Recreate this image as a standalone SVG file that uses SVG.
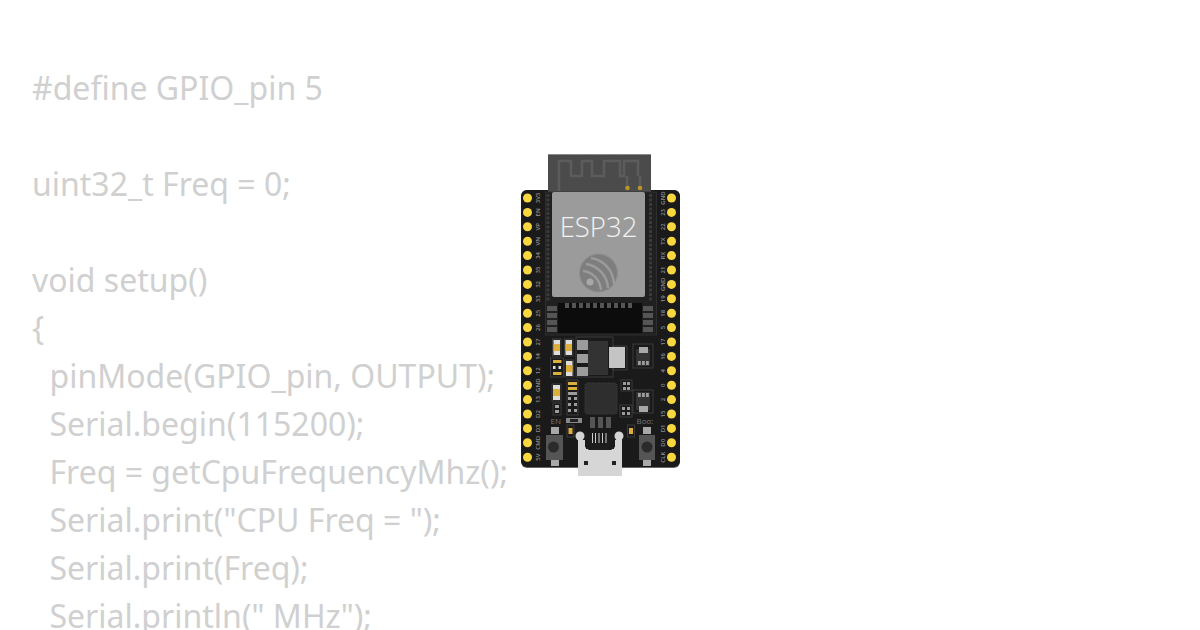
<svg xmlns="http://www.w3.org/2000/svg" width="1200" height="630" viewBox="0 0 1200 630">
<style>
.code{font-family:"Noto Sans","Open Sans",sans-serif;font-size:32px;font-weight:400;fill:#d0d0d0}
.pin{fill:#f9d73e}
.lbl{font-family:"Open Sans","DejaVu Sans",sans-serif;font-size:6px;font-weight:600;fill:#8e8e8e;text-anchor:middle}
.silk{font-family:"Open Sans",sans-serif;font-size:8px;fill:#777}
.out{fill:none;stroke:#454545;stroke-width:.8}
.pad{fill:#555}
.cap{fill:#ddd}
.y{fill:#dcae3c}
.gr{fill:#9c9c9c}
.d{fill:#333}
</style>
<rect width="1200" height="630" fill="#fff"/>
<g id="code">
<text class="code" x="32" y="100">#define GPIO_pin 5</text>
<text class="code" x="32" y="196">uint32_t Freq = 0;</text>
<text class="code" x="32" y="292">void setup()</text>
<text class="code" x="32" y="340">{</text>
<text class="code" x="49.500" y="388">pinMode(GPIO_pin, OUTPUT);</text>
<text class="code" x="49.500" y="436">Serial.begin(115200);</text>
<text class="code" x="49.500" y="484">Freq = getCpuFrequencyMhz();</text>
<text class="code" x="49.500" y="532">Serial.print("CPU Freq = ");</text>
<text class="code" x="49.500" y="580">Serial.print(Freq);</text>
<text class="code" x="49.500" y="628">Serial.println(" MHz");</text>
</g>
<g id="board">
<rect x="521" y="190" width="159" height="278" rx="6" fill="#666"/>
<rect x="521" y="190" width="159" height="277" rx="6" fill="#1a1a1a"/>
</g>
<g id="antenna">
<rect x="548" y="154" width="103" height="40" fill="#4b4b4b"/>
<rect x="548" y="154" width="103" height="1" fill="#8a8a8a"/>
<path d="M559 191V161H571V176H582V161H592V176H604V161H620V176H624V161H638V176M627 176V186M640 176V186" fill="none" stroke="#5c5c5c" stroke-width="2.500"/>
<circle cx="627.500" cy="188" r="2.300" fill="#b8952c"/>
<circle cx="640" cy="188" r="2.300" fill="#b8952c"/>
</g>
<g id="module">
<rect x="545.500" y="192" width="111" height="143" fill="#202020" stroke="#333" stroke-width=".8"/>
<path d="M548 194V302M650.500 194V302" stroke="#3a3a3a" stroke-width="3" stroke-dasharray="3 1.500"/>
<rect x="558" y="303" width="84" height="30" fill="#0c0c0c"/>
<g class="pad">
<rect x="547" y="306" width="10" height="5"/><rect x="547" y="313" width="10" height="5"/><rect x="547" y="320" width="10" height="5"/><rect x="547" y="327" width="10" height="5"/>
<rect x="643" y="306" width="10" height="5"/><rect x="643" y="313" width="10" height="5"/><rect x="643" y="320" width="10" height="5"/><rect x="643" y="327" width="10" height="5"/>
<rect x="565" y="303" width="4" height="5"/><rect x="572" y="303" width="4" height="5"/><rect x="579" y="303" width="4" height="5"/><rect x="586" y="303" width="4" height="5"/><rect x="593" y="303" width="4" height="5"/><rect x="600" y="303" width="4" height="5"/><rect x="607" y="303" width="4" height="5"/><rect x="614" y="303" width="4" height="5"/><rect x="621" y="303" width="4" height="5"/><rect x="628" y="303" width="4" height="5"/>
</g>
<rect x="552" y="192" width="93" height="105" rx="2" fill="#9b9b9b"/>
<text x="598.500" y="237" font-family="'Open Sans',sans-serif" font-size="27.500" font-weight="300" fill="#f2f2f2" text-anchor="middle">ESP32</text>
<circle cx="598.500" cy="273" r="19" fill="#7e7e7e" stroke="#8f8f8f" stroke-width="1"/>
<g fill="none" stroke="#9b9b9b">
<path d="M591 258C604 260 613 270 614 284" stroke-width="2.500"/>
<path d="M586 264C598 266 607 275 608 288" stroke-width="2.500"/>
<path d="M583 271C593 272 600 280 601 290" stroke-width="2.500"/>
</g>
<circle cx="590" cy="282" r="3.500" fill="#a8a8a8"/>
</g>
<g id="pins">
<g class="pin">
<circle cx="527.500" cy="198" r="4.500"/><circle cx="527.500" cy="212.400" r="4.500"/><circle cx="527.500" cy="226.800" r="4.500"/><circle cx="527.500" cy="241.200" r="4.500"/><circle cx="527.500" cy="255.600" r="4.500"/><circle cx="527.500" cy="270" r="4.500"/><circle cx="527.500" cy="284.400" r="4.500"/><circle cx="527.500" cy="298.800" r="4.500"/><circle cx="527.500" cy="313.200" r="4.500"/><circle cx="527.500" cy="327.600" r="4.500"/><circle cx="527.500" cy="342" r="4.500"/><circle cx="527.500" cy="356.400" r="4.500"/><circle cx="527.500" cy="370.800" r="4.500"/><circle cx="527.500" cy="385.200" r="4.500"/><circle cx="527.500" cy="399.600" r="4.500"/><circle cx="527.500" cy="414" r="4.500"/><circle cx="527.500" cy="428.400" r="4.500"/><circle cx="527.500" cy="442.800" r="4.500"/><circle cx="527.500" cy="457.200" r="4.500"/>
<circle cx="671.500" cy="198" r="4.500"/><circle cx="671.500" cy="212.400" r="4.500"/><circle cx="671.500" cy="226.800" r="4.500"/><circle cx="671.500" cy="241.200" r="4.500"/><circle cx="671.500" cy="255.600" r="4.500"/><circle cx="671.500" cy="270" r="4.500"/><circle cx="671.500" cy="284.400" r="4.500"/><circle cx="671.500" cy="298.800" r="4.500"/><circle cx="671.500" cy="313.200" r="4.500"/><circle cx="671.500" cy="327.600" r="4.500"/><circle cx="671.500" cy="342" r="4.500"/><circle cx="671.500" cy="356.400" r="4.500"/><circle cx="671.500" cy="370.800" r="4.500"/><circle cx="671.500" cy="385.200" r="4.500"/><circle cx="671.500" cy="399.600" r="4.500"/><circle cx="671.500" cy="414" r="4.500"/><circle cx="671.500" cy="428.400" r="4.500"/><circle cx="671.500" cy="442.800" r="4.500"/><circle cx="671.500" cy="457.200" r="4.500"/>
</g>
<g class="lbl">
<text transform="translate(540 198) rotate(-90)">3V3</text><text transform="translate(540 212.400) rotate(-90)">EN</text><text transform="translate(540 226.800) rotate(-90)">VP</text><text transform="translate(540 241.200) rotate(-90)">VN</text><text transform="translate(540 255.600) rotate(-90)">34</text><text transform="translate(540 270) rotate(-90)">35</text><text transform="translate(540 284.400) rotate(-90)">32</text><text transform="translate(540 298.800) rotate(-90)">33</text><text transform="translate(540 313.200) rotate(-90)">25</text><text transform="translate(540 327.600) rotate(-90)">26</text><text transform="translate(540 342) rotate(-90)">27</text><text transform="translate(540 356.400) rotate(-90)">14</text><text transform="translate(540 370.800) rotate(-90)">12</text><text transform="translate(540 385.200) rotate(-90)">GND</text><text transform="translate(540 399.600) rotate(-90)">13</text><text transform="translate(540 414) rotate(-90)">D2</text><text transform="translate(540 428.400) rotate(-90)">D3</text><text transform="translate(540 442.800) rotate(-90)">CMD</text><text transform="translate(540 457.200) rotate(-90)">5V</text>
<text transform="translate(665 198) rotate(-90)">GND</text><text transform="translate(665 212.400) rotate(-90)">23</text><text transform="translate(665 226.800) rotate(-90)">22</text><text transform="translate(665 241.200) rotate(-90)">TX</text><text transform="translate(665 255.600) rotate(-90)">RX</text><text transform="translate(665 270) rotate(-90)">21</text><text transform="translate(665 284.400) rotate(-90)">GND</text><text transform="translate(665 298.800) rotate(-90)">19</text><text transform="translate(665 313.200) rotate(-90)">18</text><text transform="translate(665 327.600) rotate(-90)">5</text><text transform="translate(665 342) rotate(-90)">17</text><text transform="translate(665 356.400) rotate(-90)">16</text><text transform="translate(665 370.800) rotate(-90)">4</text><text transform="translate(665 385.200) rotate(-90)">0</text><text transform="translate(665 399.600) rotate(-90)">2</text><text transform="translate(665 414) rotate(-90)">15</text><text transform="translate(665 428.400) rotate(-90)">D1</text><text transform="translate(665 442.800) rotate(-90)">D0</text><text transform="translate(665 457.200) rotate(-90)">CLK</text>
</g>
</g>
<g id="components">
<rect class="out" x="552.500" y="339" width="8.500" height="17"/><rect class="cap" x="553.500" y="340" width="6.500" height="15"/><rect class="y" x="553.500" y="344" width="6.500" height="7"/>
<rect class="out" x="564.500" y="339" width="8.500" height="17"/><rect class="cap" x="565.500" y="340" width="6.500" height="15"/><rect class="y" x="565.500" y="344" width="6.500" height="7"/>
<rect class="out" x="565" y="360" width="8.500" height="17"/><rect class="cap" x="566" y="361" width="6.500" height="15"/><rect class="y" x="566" y="365" width="6.500" height="7"/>
<rect class="out" x="550.500" y="358" width="13" height="19"/><rect class="y" x="553" y="360" width="8.500" height="3"/><rect class="y" x="553" y="372" width="8.500" height="3"/><rect class="cap" x="553" y="366" width="2.500" height="3"/><rect class="cap" x="558.500" y="366" width="2.500" height="3"/>
<rect class="out" x="576" y="337" width="37" height="40"/><rect class="d" x="588" y="341" width="20" height="34"/>
<rect class="gr" x="577" y="340" width="11" height="10"/><rect class="gr" x="577" y="354" width="11" height="9"/><rect class="gr" x="577" y="367" width="11" height="9"/>
<rect class="out" x="613" y="346" width="14" height="24"/><rect x="609" y="347" width="16" height="21" fill="#c4c4c4"/>
<rect class="out" x="633" y="344" width="20" height="24"/><rect class="d" x="636" y="349" width="14" height="17"/><rect x="639" y="347" width="9" height="6" fill="#a8a8a8"/><rect class="gr" x="638" y="361" width="2.800" height="4"/><rect class="gr" x="642" y="361" width="2.800" height="4"/><rect class="gr" x="646" y="361" width="2.800" height="4"/>
<rect class="out" x="633" y="390" width="20" height="23"/><rect class="d" x="636" y="392" width="14" height="18"/><rect class="gr" x="638" y="393" width="2.800" height="4"/><rect class="gr" x="642" y="393" width="2.800" height="4"/><rect class="gr" x="646" y="393" width="2.800" height="4"/><rect x="639" y="406" width="9" height="6" fill="#a8a8a8"/>
<rect x="585" y="383" width="32" height="31" rx="3" fill="#2e2e2e" stroke="#3a3a3a" stroke-width="1.500" stroke-dasharray="1 1.200"/>
<rect class="out" x="621" y="380" width="11" height="11"/><rect class="gr" x="623" y="382" width="3" height="3"/><rect class="gr" x="627" y="382" width="3" height="3"/><rect class="gr" x="623" y="387" width="3" height="3"/><rect class="gr" x="627" y="387" width="3" height="3"/>
<rect class="out" x="620" y="405" width="12" height="12"/><rect class="gr" x="622" y="407" width="3" height="3"/><rect class="gr" x="627" y="407" width="3" height="3"/><rect class="gr" x="622" y="412" width="3" height="3"/><rect class="gr" x="627" y="412" width="3" height="3"/>
<rect class="out" x="552" y="384" width="9" height="17"/><rect class="cap" x="553" y="385" width="7" height="15"/><rect class="y" x="553" y="389" width="7" height="7"/>
<rect class="out" x="553" y="403" width="8" height="12"/><rect class="gr" x="555" y="405" width="4" height="3"/><rect class="gr" x="555" y="410" width="4" height="3"/>
<rect class="out" x="567" y="380" width="11" height="35"/><rect class="y" x="568" y="382" width="9" height="3"/><rect class="y" x="568" y="387" width="9" height="3"/><rect class="gr" x="568" y="392" width="9" height="3"/><rect class="gr" x="568" y="397" width="3" height="3"/><rect class="gr" x="574" y="397" width="3" height="3"/><rect class="gr" x="568" y="403" width="3" height="3"/><rect class="gr" x="574" y="403" width="3" height="3"/><rect class="gr" x="568" y="409" width="3" height="3"/><rect class="gr" x="574" y="409" width="3" height="3"/>
<text class="silk" x="550.500" y="424">EN</text>
<text class="silk" x="636.500" y="424">Boo:</text>
<rect x="566" y="418" width="16" height="5" fill="#888"/><rect x="570" y="419" width="8" height="3" fill="#222"/>
<rect x="590" y="417" width="5" height="11" fill="#555"/><rect x="598" y="417" width="5" height="11" fill="#555"/><rect x="606" y="417" width="5" height="11" fill="#555"/>
<rect class="out" x="567" y="425" width="7" height="12"/><rect class="y" x="568.500" y="428" width="4" height="6"/>
<rect class="out" x="627.500" y="425" width="7" height="12"/><rect class="y" x="629" y="428" width="4" height="6"/>
</g>
<g id="btn-en">
<rect x="551" y="427" width="8" height="7" fill="#a8a8a8"/><rect x="551" y="460" width="8" height="6" fill="#a8a8a8"/>
<rect x="546" y="435" width="17" height="25" fill="#555"/><circle cx="553.500" cy="447" r="5.500" fill="#2b2b2b"/>
</g>
<g id="btn-boot">
<rect x="643" y="427" width="8" height="7" fill="#a8a8a8"/><rect x="643" y="460" width="8" height="6" fill="#a8a8a8"/>
<rect x="639" y="435" width="16" height="25" fill="#555"/><circle cx="647" cy="447" r="5.500" fill="#2b2b2b"/>
</g>
<g id="usb">
<path d="M578 440H586V449H614V440H622V476H578Z" fill="#d6d6d6"/>
<path d="M585 433H615V447L611 450H589L585 447Z" fill="#1c1c1c"/>
<circle cx="580" cy="436" r="4.500" fill="#d4d4d4"/><circle cx="619" cy="436" r="4.500" fill="#d4d4d4"/>
<rect x="592" y="433" width="1" height="10" fill="#ccc"/><rect x="595" y="433" width="1" height="10" fill="#ccc"/><rect x="598.500" y="433" width="1" height="10" fill="#ccc"/><rect x="602" y="433" width="1" height="10" fill="#ccc"/><rect x="605.500" y="433" width="1" height="10" fill="#ccc"/>
<rect x="584" y="461" width="4" height="4" fill="#222"/><rect x="612" y="461" width="4" height="4" fill="#222"/>
</g>
</svg>
